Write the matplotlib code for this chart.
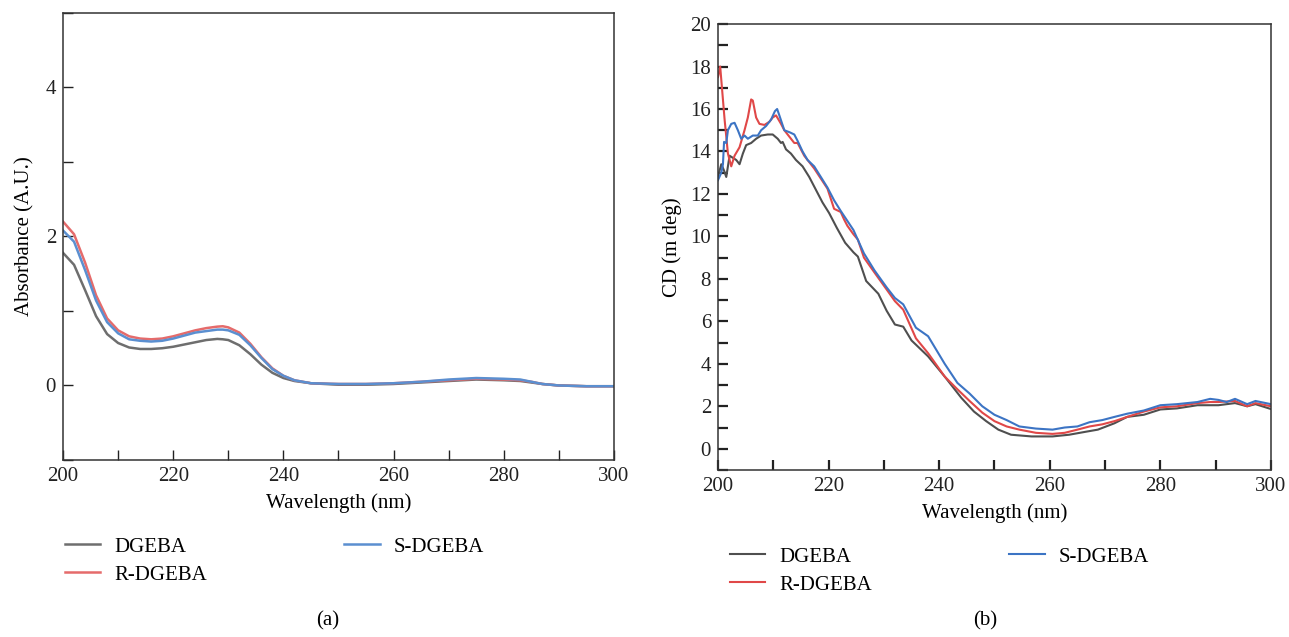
import matplotlib.pyplot as plt
from matplotlib.ticker import MultipleLocator

plt.rcParams['font.family'] = ['Liberation Serif', 'DejaVu Serif']
plt.rcParams['font.size'] = 15

# (a) UV absorbance
wl_abs = [200, 202, 204, 206, 208, 210, 212, 214, 216, 218, 220, 222, 224, 226, 228, 229, 230,
          232, 234, 236, 238, 240, 242, 245, 250, 255, 260, 265, 270, 275, 280, 283, 285, 287,
          290, 295, 300]
abs_dgeba = [1.78, 1.62, 1.28, 0.93, 0.69, 0.57, 0.51, 0.49, 0.49, 0.50, 0.52, 0.55, 0.58, 0.61,
             0.625, 0.62, 0.61, 0.54, 0.42, 0.28, 0.17, 0.10, 0.06, 0.03, 0.01, 0.01, 0.02, 0.04,
             0.06, 0.08, 0.07, 0.06, 0.04, 0.02, 0.0, -0.01, -0.01]
abs_r = [2.20, 2.03, 1.65, 1.21, 0.90, 0.74, 0.66, 0.63, 0.62, 0.63, 0.66, 0.70, 0.74, 0.77, 0.79,
         0.795, 0.78, 0.71, 0.56, 0.38, 0.23, 0.13, 0.07, 0.03, 0.02, 0.02, 0.03, 0.05, 0.07, 0.09,
         0.08, 0.07, 0.05, 0.02, 0.0, -0.01, -0.01]
abs_s = [2.08, 1.93, 1.55, 1.14, 0.85, 0.70, 0.62, 0.60, 0.59, 0.60, 0.63, 0.67, 0.71, 0.73, 0.75,
         0.75, 0.74, 0.68, 0.54, 0.37, 0.22, 0.13, 0.07, 0.03, 0.02, 0.02, 0.03, 0.05, 0.08, 0.10,
         0.09, 0.08, 0.05, 0.02, 0.0, -0.01, -0.01]

# (b) CD spectra
wl_cd_d = [200, 200.6, 201.1, 201.5, 202.1, 202.7, 203.3, 203.9, 204.5, 205.1, 206.0, 206.9, 207.8,
           209.0, 209.9, 210.8, 211.4, 211.7, 212.3, 213.2, 214.1, 215.3, 216.5, 217.7, 218.9, 220.1,
           221.5, 223, 224.5, 225.3, 226.8, 229, 230.5, 232, 233.5, 235, 238, 241, 244, 246.3, 248.5,
           250.7, 253, 256.7, 260.5, 263.5, 266.5, 268.7, 271.7, 274, 277, 280, 283, 286.7, 290.5,
           293.5, 295.7, 297.2, 300]
cd_dgeba = [12.8, 13.4, 13.1, 12.8, 13.8, 13.7, 13.6, 13.4, 13.9, 14.3, 14.4, 14.6, 14.75, 14.8, 14.8,
            14.6, 14.4, 14.45, 14.1, 13.9, 13.6, 13.3, 12.8, 12.2, 11.6, 11.1, 10.4, 9.7, 9.25, 9.05,
            7.9, 7.3, 6.5, 5.85, 5.75, 5.1, 4.35, 3.4, 2.4, 1.75, 1.3, 0.9, 0.66, 0.58, 0.58, 0.66,
            0.8, 0.9, 1.2, 1.5, 1.6, 1.85, 1.9, 2.05, 2.05, 2.15, 2.0, 2.1, 1.87]

wl_cd_r = [200, 200.4, 201.2, 201.8, 202.4, 203.0, 203.9, 204.8, 205.4, 206.0, 206.3, 206.9, 207.5,
           208.4, 209.3, 209.9, 210.5, 211.4, 212.0, 213.2, 213.8, 214.4, 215.6, 217.4, 219.8, 221.0,
           222.2, 222.8, 223.4, 224.5, 225.3, 226.4, 228.3, 230.5, 232, 233.5, 235.8, 238, 241, 243.3,
           245.5, 247.8, 250, 252.2, 254.5, 257.5, 260.5, 262.7, 265, 267.2, 269.5, 271.7, 274, 277,
           280, 283, 286.7, 289, 290.5, 293.5, 295.7, 297.2, 300]
cd_r = [17.5, 18.0, 15.5, 13.9, 13.3, 13.8, 14.2, 15.0, 15.6, 16.45, 16.4, 15.6, 15.3, 15.25, 15.4,
        15.6, 15.7, 15.3, 15.0, 14.6, 14.4, 14.4, 13.8, 13.2, 12.25, 11.3, 11.15, 10.8, 10.5, 10.1,
        9.85, 9.0, 8.3, 7.5, 6.95, 6.55, 5.2, 4.5, 3.4, 2.8, 2.25, 1.7, 1.3, 1.05, 0.9, 0.75, 0.7,
        0.75, 0.9, 1.05, 1.15, 1.3, 1.5, 1.75, 1.95, 2.0, 2.15, 2.2, 2.2, 2.25, 2.0, 2.15, 2.0]

wl_cd_s = [200, 200.6, 200.9, 201.1, 201.5, 201.8, 202.4, 203.0, 203.6, 204.2, 204.8, 205.4, 206.3,
           207.2, 207.8, 208.7, 209.6, 210.3, 210.7, 211.1, 212.0, 213.0, 213.8, 214.4, 215.3, 216.2,
           217.4, 218.6, 219.8, 221.0, 222.2, 224.5, 226.4, 228.3, 230.5, 232, 233.5, 235.8, 238, 241,
           243.3, 245.5, 247.8, 250, 252.2, 254.5, 257.5, 260.5, 262.7, 265, 267.2, 269.5, 271.7, 274,
           277, 280, 283, 286.7, 289, 290.5, 292, 293.5, 295.7, 297.2, 300]
cd_s = [12.65, 13.0, 13.4, 14.45, 14.4, 15.0, 15.3, 15.35, 15.0, 14.6, 14.75, 14.6, 14.75, 14.75,
        15.0, 15.2, 15.5, 15.9, 16.0, 15.7, 15.0, 14.9, 14.8, 14.5, 14.0, 13.6, 13.3, 12.8, 12.3,
        11.7, 11.2, 10.3, 9.2, 8.4, 7.6, 7.1, 6.8, 5.7, 5.3, 4.0, 3.1, 2.6, 2.0, 1.6, 1.35, 1.05,
        0.95, 0.9, 1.0, 1.05, 1.25, 1.35, 1.5, 1.65, 1.8, 2.05, 2.1, 2.2, 2.35, 2.3, 2.2, 2.35, 2.1,
        2.25, 2.1]

labels = ['DGEBA', 'R-DGEBA', 'S-DGEBA']


def style_axes(ax, major_y, tick_w):
    ax.set_xlim(200, 300)
    ax.xaxis.set_major_locator(MultipleLocator(20))
    ax.xaxis.set_minor_locator(MultipleLocator(10))
    ax.yaxis.set_major_locator(MultipleLocator(major_y))
    ax.yaxis.set_minor_locator(MultipleLocator(major_y / 2))
    ax.tick_params(which='both', direction='in', length=7, width=tick_w, colors='#222222',
                   labelsize=15, pad=5)
    for s in ax.spines.values():
        s.set_color('#333333')
        s.set_linewidth(1.1)
    ax.set_xlabel('Wavelength (nm)', fontsize=15, labelpad=5)


def add_legend(ax, x_px, y_px):
    ax.legend(loc='upper left', bbox_to_anchor=(x_px / 1289, 1 - y_px / 637),
              bbox_transform=fig.transFigure, frameon=False, ncol=2, fontsize=15,
              handlelength=1.7, handletextpad=0.65, columnspacing=6.6, labelspacing=0.4,
              borderpad=0, borderaxespad=0)


fig = plt.figure(figsize=(12.89, 6.37), dpi=100)

ax1 = fig.add_axes([0.0489, 0.2779, 0.4274, 0.7017])
ax1.plot(wl_abs, abs_dgeba, color='#6e6e6e', lw=1.8, label=labels[0])
ax1.plot(wl_abs, abs_r, color='#e56b6b', lw=1.8, label=labels[1])
ax1.plot(wl_abs, abs_s, color='#5b8fd0', lw=1.8, label=labels[2])
ax1.set_ylim(-1, 5)
style_axes(ax1, 2, 1.0)
ax1.set_ylabel('Absorbance (A.U.)', fontsize=15, labelpad=8)
add_legend(ax1, 65, 537)

ax2 = fig.add_axes([0.557, 0.2622, 0.429, 0.700])
ax2.plot(wl_cd_d, cd_dgeba, color='#4f4f4f', lw=1.5, label=labels[0])
ax2.plot(wl_cd_r, cd_r, color='#e04848', lw=1.5, label=labels[1])
ax2.plot(wl_cd_s, cd_s, color='#3c74c4', lw=1.5, label=labels[2])
ax2.set_ylim(-1, 20)
style_axes(ax2, 2, 1.6)
ax2.yaxis.set_minor_locator(MultipleLocator(1))
ax2.set_ylabel('CD (m deg)', fontsize=15, labelpad=6)
add_legend(ax2, 730, 547)

fig.text(328 / 1289, 1 - 621 / 637, '(a)', ha='center', va='center', fontsize=15)
fig.text(985 / 1289, 1 - 621 / 637, '(b)', ha='center', va='center', fontsize=15)

fig.savefig('out.png', dpi=100)
